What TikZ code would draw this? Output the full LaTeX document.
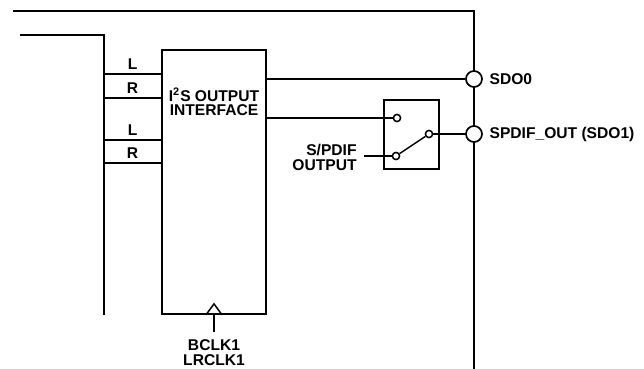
\documentclass[tikz,border=0pt]{standalone}
\usepackage{fontspec}
\setmainfont{Liberation Sans}
\begin{document}
\begin{tikzpicture}[x=0.5pt, y=-0.5pt,
  font=\fontsize{7.8}{7.3}\selectfont\bfseries,
  wire/.style={line width=0.75pt},
  border/.style={line width=1.15pt},
  block/.style={draw, line width=0.85pt, inner sep=0},
  contact/.style={circle, draw, line width=0.75pt, fill=white, minimum size=3.6pt, inner sep=0},
  pin/.style={circle, draw, line width=0.85pt, fill=white, minimum size=8pt, inner sep=0},
  txt/.style={inner sep=0, align=center}]
\useasboundingbox (0,0) rectangle (644,369);

% chip edge and input bus
\draw[border] (13,11) -- (474,11) -- (474,369);
\draw[border] (20,35) -- (104,35) -- (104,315);

% output interface block
\node[block, minimum width=52pt, minimum height=132pt] (iface) at (214,182) {};
\node[txt] (ifacetxt) at (214,102) {I\textsuperscript{2}S OUTPUT\\INTERFACE};
\foreach \y/\ch in {74/L,98/R,140/L,163/R} {
 \coordinate (bus\y) at (104,\y);
 \draw[wire] (bus\y) -- (bus\y -| iface.west) node[midway, above, inner sep=2pt] {\ch};
}

% pins
\node[pin] (sdo0) at (474,79) {};
\node[pin] (sdo1) at (474,134) {};
\node[txt, anchor=west] (sdo0txt) at ([xshift=3.2pt]sdo0.east) {SDO0};
\node[txt, anchor=west] (sdo1txt) at ([xshift=3.2pt]sdo1.east) {SPDIF\_OUT (SDO1)};

% S/PDIF switch
\node[block, minimum width=27.5pt, minimum height=34.5pt] (swbox) at (411.5,134.5) {};
\node[contact] (swin) at (397,118) {};
\node[contact] (swsel) at (396,156) {};
\node[contact] (swout) at (429,134) {};
\draw[wire] (iface.east |- sdo0) -- (sdo0);
\draw[wire] (iface.east |- swin) -- (swin);
\draw[wire] (swsel) -- (swout);
\draw[wire] (swout) -- (sdo1);
\node[txt, anchor=east, align=right] (spdifsel) at (357,157.5) {S/PDIF\\OUTPUT};
\draw[wire] ([xshift=3.5pt]swsel -| spdifsel.east) -- (swsel);

% clock input
\coordinate (clkin) at (214,332);
\draw[wire] (clkin) -- (iface.south);
\draw[wire] ([xshift=-4pt]iface.south) -- ++(8,-11) -- ++(8,11);
\node[txt] (clk) at (214,352.5) {BCLK1\\LRCLK1};
\end{tikzpicture}
\end{document}
